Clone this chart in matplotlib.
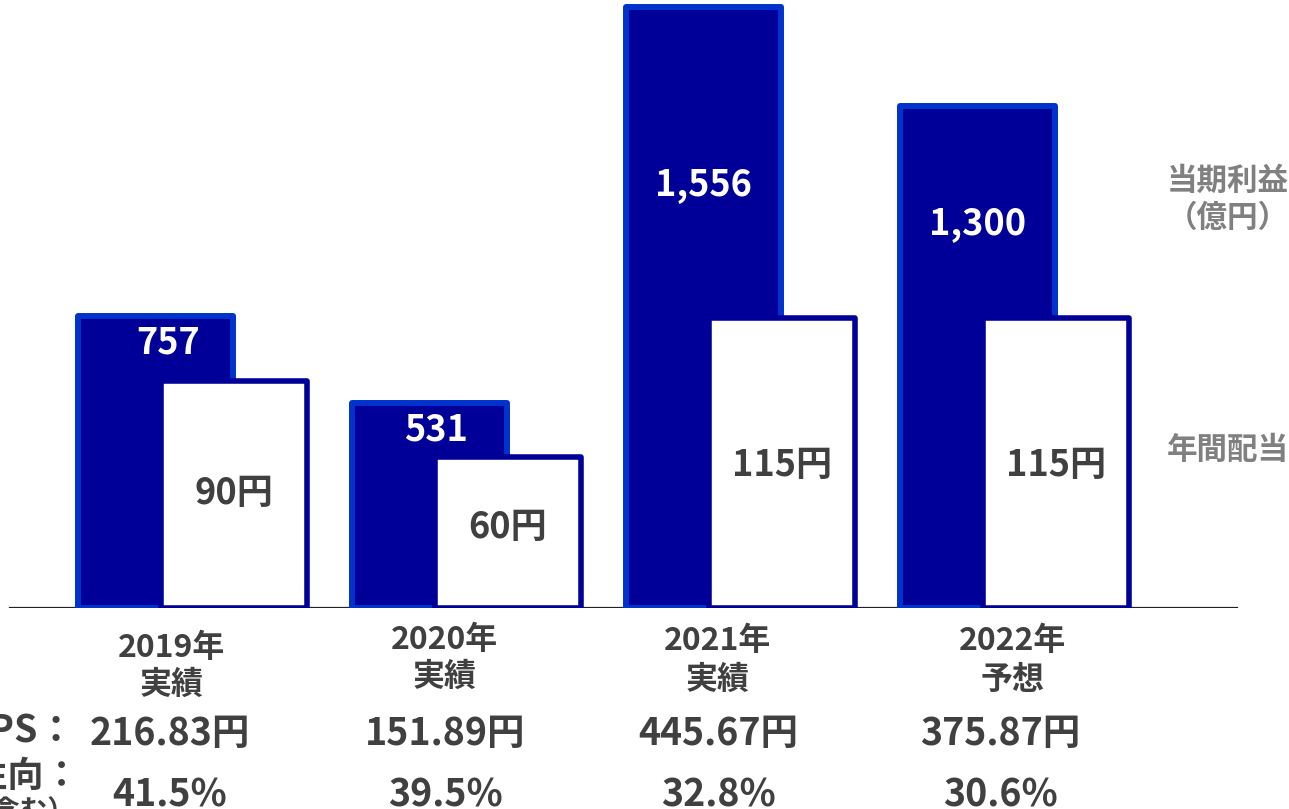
import matplotlib
matplotlib.use("Agg")
import matplotlib.pyplot as plt

plt.rcParams['font.family'] = ['Noto Sans CJK JP', 'DejaVu Sans']

# データ
years = ["2019年", "2020年", "2021年", "2022年"]
kubun = ["実績", "実績", "実績", "予想"]
rieki = [757, 531, 1556, 1300]          # 当期利益（億円）
haito = [90, 60, 115, 115]              # 年間配当（円）
eps = ["216.83円", "151.89円", "445.67円", "375.87円"]
seiko = ["41.5%", "39.5%", "32.8%", "30.6%"]

navy = "#000099"
blue = "#0033cc"
grey_txt = "#404040"

fig = plt.figure(figsize=(12.89, 8.09), dpi=100)
ax = fig.add_axes([0, 0.2485, 1, 0.75])
ax2 = ax.twinx()

x = list(range(len(years)))

# 当期利益の棒
bars = ax.bar(x, rieki, width=0.566, color=navy, edgecolor=blue, linewidth=4.3, zorder=2)
for b in bars:
    b.set_joinstyle("round")

# 年間配当の棒（白）
x2 = [i + 0.286 for i in x]
bars2 = ax2.bar(x2, haito, width=0.533, color="white", edgecolor=navy, linewidth=4, zorder=2)
for b in bars2:
    b.set_joinstyle("round")

ax.set_xlim(-0.5675, 4.137)
ax.set_ylim(0, 1572)
ax2.set_ylim(0, 241)

# 基準線
ax.axhline(0, xmin=10 / 1289, xmax=1237 / 1289, color="#222222", linewidth=1.6, zorder=1)

for a in (ax, ax2):
    a.axis("off")

# 利益ラベル
label_y = [686, 462, 1096, 997]
label_dx = [0.046, 0.024, 0.0, 0.0]
for i, v in enumerate(rieki):
    ax.text(i + label_dx[i], label_y[i], f"{v:,}", color="white", fontsize=26,
            fontweight="bold", ha="center", va="center", zorder=5)

# 配当ラベル
for i, v in enumerate(haito):
    ax2.text(x2[i], v * 0.45 + 5, f"{v}円", color=grey_txt, fontsize=26,
             fontweight="bold", ha="center", va="center", zorder=5)

# 右側の凡例テキスト
fig.text(1289 / 1289, 1 - 181 / 809, "当期利益", color="#808080", fontsize=22,
         fontweight="bold", ha="right", va="center")
fig.text(1289 / 1289, 1 - 218 / 809, "（億円）", color="#808080", fontsize=22,
         fontweight="bold", ha="right", va="center")
fig.text(1289 / 1289, 1 - 450 / 809, "年間配当", color="#808080", fontsize=22,
         fontweight="bold", ha="right", va="center")

# 下のテキスト
xc = [172, 445, 718, 1013]
yy1 = [648, 640, 641, 641]
yy2 = [685, 677, 680, 680]
xe = [170, 445, 718, 1000]
for i in range(len(years)):
    fig.text(xc[i] / 1289, 1 - yy1[i] / 809, years[i], color=grey_txt, fontsize=23,
             fontweight="bold", ha="center", va="center")
    fig.text(xc[i] / 1289, 1 - yy2[i] / 809, kubun[i], color=grey_txt, fontsize=23,
             fontweight="bold", ha="center", va="center")
    fig.text(xe[i] / 1289, 1 - 733 / 809, eps[i], color=grey_txt, fontsize=27,
             fontweight="bold", ha="center", va="center")
    fig.text(xe[i] / 1289, 1 - 795 / 809, seiko[i], color=grey_txt, fontsize=27,
             fontweight="bold", ha="center", va="center")

fig.text(76 / 1289, 1 - 731 / 809, "EPS：", color=grey_txt, fontsize=27,
         fontweight="bold", ha="right", va="center")
fig.text(80 / 1289, 1 - 776 / 809, "配当性向：", color=grey_txt, fontsize=26,
         fontweight="bold", ha="right", va="center")
fig.text(76 / 1289, 1 - 812 / 809, "（記念配当含む）", color=grey_txt, fontsize=20,
         fontweight="bold", ha="right", va="center")

fig.savefig("out.png", dpi=100)
